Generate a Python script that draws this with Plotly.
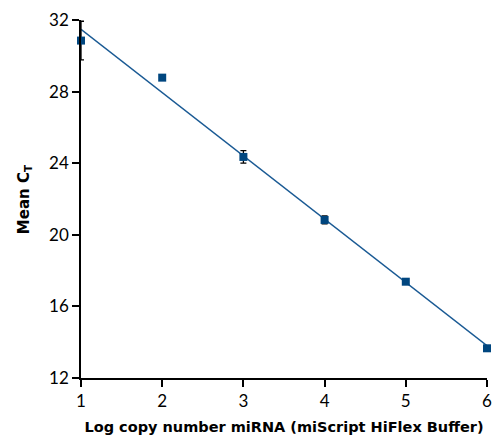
import numpy as np
import plotly.graph_objects as go

log_copy = [1, 2, 3, 4, 5, 6]
mean_ct = [30.85, 28.78, 24.35, 20.83, 17.38, 13.66]
ct_err = [1.08, 0.08, 0.35, 0.22, 0.15, 0.08]
y_ticks = [12, 16, 20, 24, 28, 32]
x_ticks = [1, 2, 3, 4, 5, 6]

slope, intercept = np.polyfit(log_copy, mean_ct, 1)
fit_x = [log_copy[0], log_copy[-1]]
fit_y = [slope * v + intercept for v in fit_x]

blue = "#00467f"
font = "Lato, 'DejaVu Sans', sans-serif"
title_font = "'DejaVu Sans', sans-serif"

fig = go.Figure()
fig.add_trace(go.Scatter(
    x=fit_x, y=fit_y, mode="lines",
    line=dict(color="#1a5a94", width=1.5),
    hoverinfo="skip", cliponaxis=False))
fig.add_trace(go.Scatter(
    x=log_copy, y=mean_ct, mode="markers",
    marker=dict(symbol="square", size=8, color=blue),
    error_y=dict(type="data", array=ct_err, color="black", thickness=1.3, width=3),
    cliponaxis=False))

fig.update_layout(
    width=499, height=442,
    margin=dict(l=81, r=7, t=20, b=64),
    paper_bgcolor="white", plot_bgcolor="white",
    showlegend=False,
    font=dict(family=font, color="black"),
    annotations=[dict(
        text="<b>Mean C<sub>T</sub></b>", textangle=-90,
        xref="paper", yref="paper", x=-0.14, y=0.5,
        xanchor="center", yanchor="middle", showarrow=False,
        font=dict(size=15, family=title_font, color="black"))],
)
fig.update_xaxes(
    range=[1, 6], tickvals=x_ticks, ticks="outside", ticklen=7, tickwidth=1.5,
    tickcolor="black", showline=True, linecolor="black", linewidth=1.5,
    showgrid=False, zeroline=False, tickfont=dict(size=17),
    title=dict(text="<b>Log copy number miRNA (miScript HiFlex Buffer)</b>",
               font=dict(size=14.5, family=title_font), standoff=12),
)
fig.update_yaxes(
    range=[12, 32], tickvals=y_ticks, ticks="outside", ticklen=7, tickwidth=1.5,
    tickcolor="black", showline=True, linecolor="black", linewidth=1.5,
    showgrid=False, zeroline=False, tickfont=dict(size=17),
    ticksuffix="\u00a0\u00a0",
)

fig.write_html("out.html", config={"displayModeBar": False},
               post_script="document.body.style.margin='0';")
